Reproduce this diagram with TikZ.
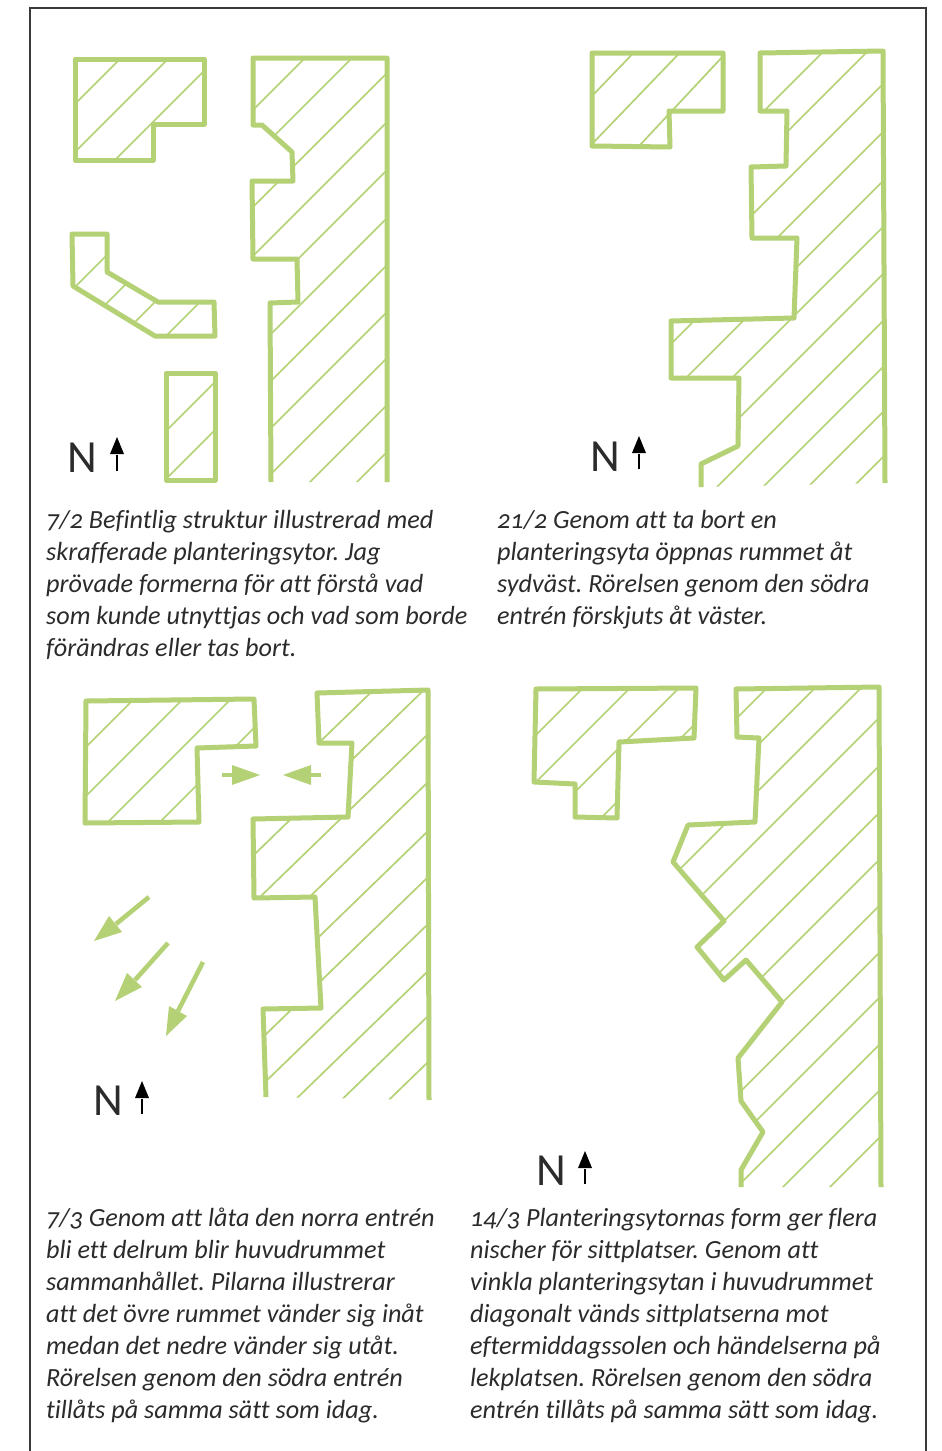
\documentclass[tikz,border=0pt]{standalone}
\usepackage{fontspec}
\setmainfont{Carlito}[Numbers=OldStyle,Ligatures=CommonOff]
\frenchspacing
\definecolor{grn}{HTML}{B5D175}
\definecolor{frm}{HTML}{3A3A3A}
\definecolor{txt}{HTML}{2B2B2B}
\tikzset{
  outline/.style={draw=grn,line width=5pt,line join=round,line cap=butt},
  hatchline/.style={draw=grn,line width=1.7pt},
  caption/.style={anchor=north west,inner sep=0pt,align=left,text=txt,font=\fontsize{26.2}{32}\selectfont\itshape},
  northN/.style={anchor=base west,inner sep=0pt,text=txt,font=\fontsize{46}{46}\selectfont},
  solidarrow/.style={fill=grn,draw=none},
}
% hatch lines: reference x, slope, list of y values at that x
\newcommand{\hatchset}[3]{\foreach \yy in {#3}{\draw[hatchline] ({#1-1200},{\yy+1200*#2})--({#1+1200},{\yy-1200*#2});}}
% north arrow: x, tip y, head base y, tail y
\newcommand{\northarrow}[4]{\draw[black,line width=2.6pt] (#1,#4)--(#1,#3+1);\fill[black] (#1,#2)--(#1+7,#3)--(#1-7,#3)--cycle;}
\begin{document}
\begin{tikzpicture}[x=1pt,y=-1pt]
\useasboundingbox (0,0) rectangle (942,1451);
\fill[white] (0,0) rectangle (942,1451);
\draw[frm,line width=1.2pt] (30,1451)--(30,8)--(926,8)--(926,1451);
% ---------- panel 1
\def\shp{(75,59)--(204,59)--(204,124)--(153,124)--(153,160)--(75,160)--cycle}
\begin{scope}\clip \shp; \hatchset{0}{1}{179,227,275}\end{scope}
\draw[outline] \shp;
\def\shp{(72,234)--(107,234)--(107,272)--(158,302)--(214,302)--(215,336)--(155,336)--(73,286)--cycle}
\begin{scope}\clip \shp; \hatchset{0}{1}{362,410,457,502}\end{scope}
\draw[outline] \shp;
\def\shp{(166,373)--(215,373)--(215,480)--(166,480)--cycle}
\begin{scope}\clip \shp; \hatchset{0}{1}{597,645}\end{scope}
\draw[outline] \shp;
\def\shp{(271,482)--(270,303)--(298,302)--(297,259)--(253,259)--(252,181)--(293,181)--(292,152)--(262,125)--(253,125)--(253,58)--(387,58)--(387,482)}
\begin{scope}\clip \shp--cycle; \hatchset{387}{1}{-24,23,73,122,170,218,265,312,358,405,452}\end{scope}
\draw[outline] \shp;
\node[northN] (n1) at (67,472) {N};
\northarrow{117}{437}{454}{471}
\node[caption] (c1) at (46,510) {7/2 Befintlig struktur illustrerad med\\skrafferade planteringsytor. Jag\\prövade formerna för att förstå vad\\som kunde utnyttjas och vad som borde\\förändras eller tas bort.};
% ---------- panel 2
\def\shp{(592,53)--(723,53)--(723,111)--(669,111)--(670,147)--(592,146)--cycle}
\begin{scope}\clip \shp; \hatchset{593}{1.04}{95,143}\hatchset{640}{1.07}{145}\end{scope}
\draw[outline] \shp;
\def\shp{(701,487)--(701,464)--(738,446)--(739,378)--(671,378)--(671,321)--(794,318)--(797,238)--(752,238)--(751,167)--(786,166)--(787,111)--(760,111)--(760,53)--(883,51)--(885,483)}
\begin{scope}\clip \shp--cycle; \hatchset{882}{1}{-7,37,85,133,182,228,275,322,368,413,458}\end{scope}
\draw[outline] \shp;
\node[northN] (n2) at (590,471) {N};
\northarrow{639}{436}{453}{469}
\node[caption] (c2) at (497,510) {21/2 Genom att ta bort en\\planteringsyta öppnas rummet åt\\sydväst. Rörelsen genom den södra\\entrén förskjuts åt väster.};
% ---------- panel 3
\def\shp{(86,701)--(254,699)--(256,746)--(197,748)--(199,822)--(85,823)--cycle}
\begin{scope}\clip \shp; \hatchset{0}{1}{833,882,930,982}\end{scope}
\draw[outline] \shp;
\def\shp{(266,1097)--(263,1009)--(321,1008)--(315,897)--(254,898)--(253,819)--(348,817)--(352,743)--(319,743)--(317,693)--(428,690)--(429,1100)}
\begin{scope}\clip \shp--cycle; \hatchset{427}{0.97}{638,687,735,783,832,878,925,972,1017,1063}\end{scope}
\draw[outline] \shp;
% small arrows
\draw[grn,line width=4.6pt] (222,775)--(234,775);
\fill[solidarrow] (260,775)--(232,765)--(232,785)--cycle;
\draw[grn,line width=4.6pt] (321,775)--(309,775);
\fill[solidarrow] (283,775)--(311,765)--(311,785)--cycle;
% big arrows
\draw[grn,line width=4.6pt] (149,897)--(116,924);
\fill[solidarrow] (94,941)--(109,916)--(122,932)--cycle;
\draw[grn,line width=4.6pt] (168,943)--(135,980);
\fill[solidarrow] (115,1001)--(127,973)--(142,987)--cycle;
\draw[grn,line width=4.6pt] (203,962)--(178,1011);
\fill[solidarrow] (166,1036)--(169,1006)--(187,1016)--cycle;
\node[northN] (n3) at (93,1115) {N};
\northarrow{142}{1081}{1098}{1114}
\node[caption] (c3) at (46,1208) {7/3 Genom att låta den norra entrén\\bli ett delrum blir huvudrummet\\sammanhållet. Pilarna illustrerar\\att det övre rummet vänder sig inåt\\medan det nedre vänder sig utåt.\\Rörelsen genom den södra entrén\\tillåts på samma sätt som idag.};
% ---------- panel 4
\def\shp{(536,689)--(696,688)--(694,738)--(619,742)--(617,818)--(575,817)--(575,784)--(534,782)--cycle}
\begin{scope}\clip \shp; \hatchset{0}{1}{1271,1318,1367,1419}\end{scope}
\draw[outline] \shp;
\def\shp{(741,1187)--(741,1170)--(763,1132)--(741,1101)--(738,1058)--(782,1002)--(746,960)--(724,980)--(697,947)--(724,921)--(673,862)--(688,825)--(755,822)--(759,738)--(737,737)--(736,689)--(879,687)--(881,1187)}
\begin{scope}\clip \shp--cycle; \hatchset{877}{1}{578,626,672,720,768,815,862,908,955,1000,1047,1093,1140}\end{scope}
\draw[outline] \shp;
\node[northN] (n4) at (536,1185) {N};
\northarrow{585}{1151}{1168}{1184}
\node[caption] (c4) at (470,1208) {14/3 Planteringsytornas form ger flera\\nischer för sittplatser. Genom att\\vinkla planteringsytan i huvudrummet\\diagonalt vänds sittplatserna mot\\eftermiddagssolen och händelserna på\\lekplatsen. Rörelsen genom den södra\\entrén tillåts på samma sätt som idag.};
\end{tikzpicture}
\end{document}
